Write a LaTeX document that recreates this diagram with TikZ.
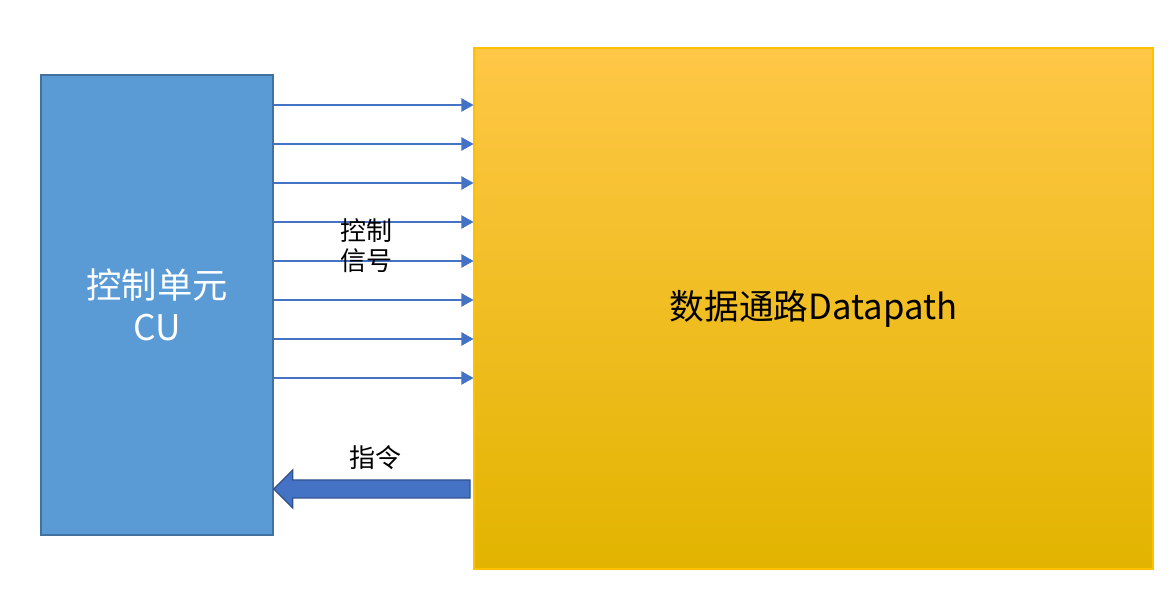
\documentclass[tikz,border=0pt]{standalone}
\usepackage{fontspec}
\setmainfont{Noto Sans CJK SC}
\usetikzlibrary{positioning,calc,arrows.meta}
\definecolor{cublue}{HTML}{5B9BD5}
\definecolor{cuedge}{HTML}{41719C}
\definecolor{sigblue}{HTML}{4472C4}
\definecolor{insedge}{HTML}{2F528F}
\definecolor{dptop}{HTML}{FFC746}
\definecolor{dpmid}{HTML}{FFC000}
\definecolor{dpbot}{HTML}{E2B400}
\tikzset{
  unitbox/.style={draw=cuedge,line width=1.2pt,fill=cublue,minimum width=174pt,minimum height=345pt,
    text=white,align=center,font=\fontsize{26.5}{31}\selectfont,inner sep=0pt},
  pathbox/.style={draw=dpmid,line width=0.8pt,top color=dptop,middle color=dpmid,bottom color=dpbot,
    minimum width=509.25pt,minimum height=390.75pt,font=\fontsize{26}{30}\selectfont,inner sep=0pt},
  sigline/.style={draw=sigblue,line width=0.8pt,-{Triangle[length=9,width=10]}},
  lbl/.style={align=center,font=\fontsize{19.5}{22.5}\selectfont,inner sep=0pt}
}
\begin{document}
\begin{tikzpicture}[x=0.75pt,y=-0.75pt]
  \useasboundingbox (0,0) rectangle (1174,605);
  \node[unitbox] (cu) at (157,305) {控制单元\\CU};
  \node[pathbox] (dp) at (813.5,308.5) {数据通路Datapath};
  % control signals
  \foreach \y in {105,144,183,222,261,300,339,378} {
    \coordinate (s) at (cu.east |- 0,\y);
    \coordinate (t) at (dp.west |- 0,\y);
    \draw[sigline] (s) -- (t);
  }
  \node[lbl] (sig) at (366,246) {控制\\信号};
  % instruction arrow
  \coordinate (tip) at (cu.east |- 0,489);
  \coordinate (tail) at (470,489);
  \draw[fill=sigblue,draw=insedge,line width=1pt]
    (tail) ++(0,-9) -- ($(tip)+(19,-9)$) -- ($(tip)+(19,-19)$) -- (tip)
    -- ($(tip)+(19,19)$) -- ($(tip)+(19,9)$) -- ($(tail)+(0,9)$) -- cycle;
  \node[lbl] (ins) at (375,458) {指令};
\end{tikzpicture}
\end{document}
